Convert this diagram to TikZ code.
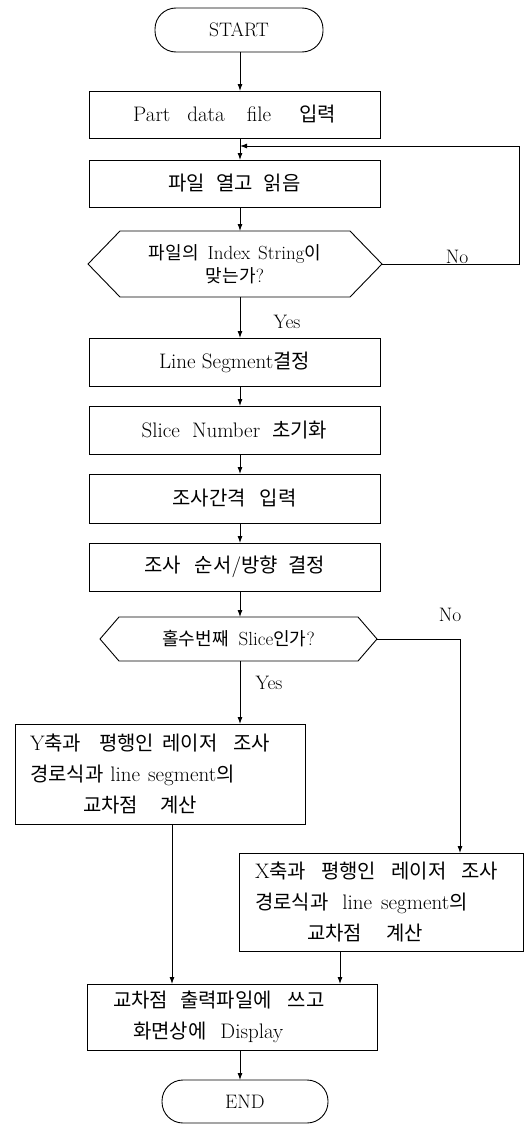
\documentclass[tikz,border=0pt]{standalone}
\usepackage{fontspec}
\newfontfamily\krf[Scale=0.95]{Noto Sans CJK KR}
\newcommand\ko[1]{{\krf #1}}
\usetikzlibrary{arrows.meta}
\tikzset{
  ln/.style={line width=0.9pt},
  box/.style={draw, ln, inner sep=0pt, outer sep=0pt, font=\fontsize{21}{31}\selectfont, align=center},
  term/.style={draw, ln, rounded corners=21pt, inner sep=0pt, outer sep=0pt, font=\fontsize{19.5}{24}\selectfont},
  dec/.style={inner sep=0pt, outer sep=0pt, font=\fontsize{19}{23}\selectfont, align=center},
  lbl/.style={inner sep=0pt, font=\fontsize{19.5}{24}\selectfont},
  arr/.style={ln, -{Latex[length=7pt,width=5pt]}},
}
\newcommand\hexa[2]{\draw[ln] (#1.west) -- ([xshift=#2]#1.north west) -- ([xshift=-#2]#1.north east) -- (#1.east) -- ([xshift=-#2]#1.south east) -- ([xshift=#2]#1.south west) -- cycle;}
\begin{document}
\begin{tikzpicture}[x=1pt,y=-1pt]
\useasboundingbox (0,0) rectangle (524,1124);
\coordinate (ax) at (240,0);
\coordinate (nx) at (460,0);
\coordinate (yx) at (172,0);
\coordinate (xx) at (340,0);
\coordinate (fbtop) at (519,146);

\node[term, minimum width=168pt, minimum height=44pt] (start) at (239,30) {START};
\node[box, minimum width=291pt, minimum height=47pt] (b1) at (234.5,114.5)
  {Part\hspace{17pt}data\hspace{22pt}file\hspace{28pt}\ko{입력}};
\node[box, minimum width=291pt, minimum height=47pt] (b2) at (234.5,183.5)
  {\ko{파일\hspace{11pt}열고\hspace{11pt}읽음}};
\node[dec, minimum width=294pt, minimum height=66pt] (d1) at (235,264)
  {\ko{파일의}\hspace{9pt}Index\hspace{8pt}String\ko{이}\\\ko{맞는가}?};
\hexa{d1}{32pt}
\node[box, minimum width=291pt, minimum height=48pt] (b3) at (234.5,362)
  {Line Segment\ko{결정}};
\node[box, minimum width=291pt, minimum height=48pt] (b4) at (234.5,430)
  {Slice\hspace{12pt}Number\hspace{12pt}\ko{초기화}};
\node[box, minimum width=291pt, minimum height=49pt] (b5) at (234.5,498.5)
  {\ko{조사간격\hspace{14pt}입력}};
\node[box, minimum width=291pt, minimum height=48pt] (b6) at (234.5,567)
  {\ko{조사\hspace{14pt}순서}/\ko{방향\hspace{10pt}결정}};
\node[dec, minimum width=277pt, minimum height=44pt] (d2) at (238.5,639)
  {\ko{홀수번째}\hspace{10pt}Slice\ko{인가}?};
\hexa{d2}{19pt}
\node[box, align=left, text width=260pt, inner xsep=15pt, minimum height=100pt] (ybox) at (160,774)
  {\mbox{Y\ko{축과\hspace{18pt}평행인\hspace{8pt}레이저\hspace{16pt}조사}}\\
   \mbox{\ko{경로식과}\hspace{7pt}line\hspace{8pt}segment\ko{의}}\\
   \hspace*{53pt}\mbox{\ko{교차점\hspace{22pt}계산}}};
\node[box, align=left, text width=252pt, inner xsep=16pt, minimum height=98pt] (xbox) at (381,902)
  {\mbox{X\ko{축과\hspace{15pt}평행인\hspace{15pt}레이저\hspace{15pt}조사}}\\
   \mbox{\ko{경로식과}\hspace{14pt}line\hspace{9pt}segment\ko{의}}\\
   \hspace*{52pt}\mbox{\ko{교차점\hspace{24pt}계산}}};
\node[box, align=left, text width=238pt, inner xsep=26pt, minimum height=66pt] (fbox) at (232,1017)
  {\mbox{\ko{교차점\hspace{12pt}출력파일에\hspace{16pt}쓰고}}\\
   \hspace*{20pt}\mbox{\ko{화면상에}\hspace{14pt}Display}};
\node[term, minimum width=166pt, minimum height=43pt] (end) at (245,1101.5) {END};

\draw[arr] (start.south -| ax) -- (b1.north -| ax);
\draw[arr] (b1.south -| ax) -- (b2.north -| ax);
\draw[arr] (b2.south -| ax) -- (d1.north -| ax);
\draw[arr] (d1.east) -- (d1.east -| fbtop) -- (fbtop) -- (fbtop -| ax);
\node[lbl, anchor=base] (no1) at (457,263) {No};
\draw[arr] (d1.south -| ax) -- (b3.north -| ax);
\node[lbl] (yes1) at (287,322) {Yes};
\draw[arr] (b3.south -| ax) -- (b4.north -| ax);
\draw[arr] (b4.south -| ax) -- (b5.north -| ax);
\draw[arr] (b5.south -| ax) -- (b6.north -| ax);
\draw[arr] (b6.south -| ax) -- (d2.north -| ax);
\draw[arr] (d2.south -| ax) -- (ybox.north -| ax);
\node[lbl] (yes2) at (269,683) {Yes};
\draw[arr] (d2.east) -| (xbox.north -| nx);
\node[lbl] (no2) at (450,615) {No};
\draw[arr] (ybox.south -| yx) -- (fbox.north -| yx);
\draw[arr] (xbox.south -| xx) -- (fbox.north -| xx);
\draw[arr] (fbox.south -| ax) -- (end.north -| ax);
\end{tikzpicture}
\end{document}
